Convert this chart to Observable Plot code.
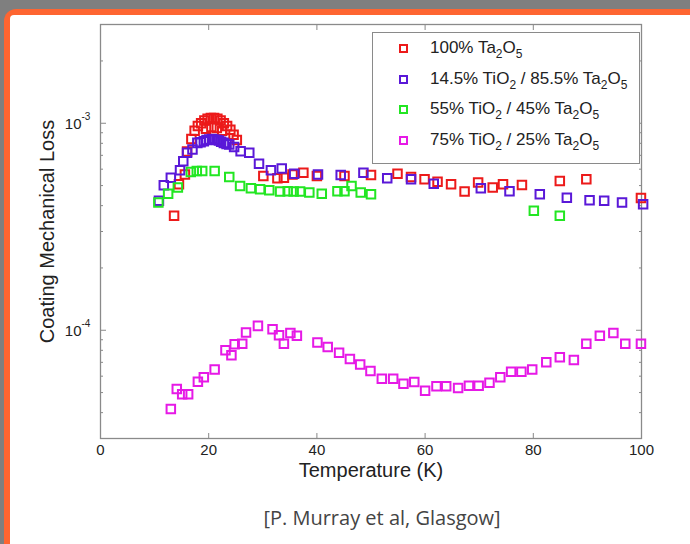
<!DOCTYPE html>
<html>
<head>
<meta charset="utf-8">
<script src="https://cdn.jsdelivr.net/npm/d3@7"></script>
<script src="https://cdn.jsdelivr.net/npm/@observablehq/plot@0.6"></script>
<style>
  html, body { margin: 0; padding: 0; width: 690px; height: 544px; overflow: hidden; background: #7f7f7f; }
  #orange { position: absolute; left: 4px; top: 9px; width: 720px; height: 560px; background: #fe6531; border-radius: 12px 0 0 0; }
  #white { position: absolute; left: 10px; top: 15px; width: 720px; height: 560px; background: #ffffff; border-radius: 4px 0 0 0; }
  #chart { position: absolute; left: 0; top: 0; }
  #legend { position: absolute; left: 372px; top: 32px; width: 266px; height: 130px; border: 1px solid #8a8a8a; background: #fff;
            font-family: "Liberation Sans", Arial, sans-serif; font-size: 17px; color: #222; }
  .row { position: absolute; left: 0; height: 20px; line-height: 20px; white-space: nowrap; }
  .mk { position: absolute; left: 26px; top: 6px; width: 5px; height: 5px; border: 2px solid; }
  .tx { position: absolute; left: 57px; top: 0; }
  .tx sub { font-size: 12px; vertical-align: -5px; line-height: 0; }
  #caption { position: absolute; left: 0; width: 764px; top: 504px; text-align: center; font-family: "Open Sans", sans-serif; font-size: 20px; color: #444; }
</style>
</head>
<body>
<div id="orange"></div>
<div id="white"></div>
<div id="chart"></div>
<div id="legend"></div>
<div id="caption">[P. Murray et al, Glasgow]</div>
<script>
// ---- data ----
const seriesNames = ["100% Ta2O5", "14.5% TiO2 / 85.5% Ta2O5", "55% TiO2 / 45% Ta2O5", "75% TiO2 / 25% Ta2O5"];
const seriesColors = ["#ec1a1a", "#5a18d8", "#22e622", "#e619e6"];

const ta2o5T    = [13.6, 14.5, 15.6, 16.0, 16.8, 17.4, 18.0, 18.6, 19.2, 19.5, 19.8, 20.4, 20.5, 21.0, 21.5, 21.6, 22.2, 22.5, 22.8, 23.4, 24.0, 24.6, 25.2, 30.1, 32.7, 33.9, 35.5, 37.5, 40.0, 45.1, 50.0, 54.9, 57.4, 59.9, 62.3, 64.8, 67.3, 69.8, 72.5, 74.4, 77.9, 84.9, 89.8, 99.9];
const ta2o5Loss = [3.57e-4, 5.07e-4, 5.66e-4, 7.3e-4, 8.4e-4, 9.2e-4, 9.7e-4, 1.0e-3, 1.03e-3, 9.4e-4, 1.05e-3, 1.06e-3, 9.6e-4, 1.06e-3, 9.5e-4, 1.05e-3, 1.03e-3, 9.2e-4, 1.0e-3, 9.7e-4, 9.3e-4, 8.8e-4, 8.3e-4, 5.56e-4, 5.42e-4, 5.45e-4, 5.66e-4, 5.77e-4, 5.56e-4, 5.56e-4, 5.62e-4, 5.7e-4, 5.5e-4, 5.36e-4, 5.22e-4, 5.07e-4, 4.68e-4, 5.17e-4, 4.89e-4, 5.07e-4, 5.03e-4, 5.26e-4, 5.36e-4, 4.35e-4];

const mixLowT    = [10.8, 11.7, 13.0, 14.7, 15.3, 16.0, 17.0, 17.9, 18.5, 19.1, 19.6, 20.1, 20.6, 21.0, 21.5, 21.9, 22.3, 22.8, 23.3, 23.8, 24.7, 25.9, 27.5, 29.3, 31.5, 33.5, 35.8, 40.2, 44.4, 48.6, 53.0, 57.4, 61.6, 70.3, 75.6, 81.2, 86.2, 90.4, 93.1, 96.4, 100.3];
const mixLowLoss = [4.22e-4, 5.02e-4, 5.46e-4, 5.93e-4, 6.56e-4, 7.2e-4, 7.47e-4, 8.04e-4, 8.1e-4, 8.19e-4, 8.3e-4, 8.35e-4, 8.4e-4, 8.35e-4, 8.3e-4, 8.26e-4, 8.15e-4, 8.04e-4, 7.95e-4, 7.9e-4, 7.67e-4, 7.32e-4, 7.2e-4, 6.37e-4, 5.93e-4, 6.05e-4, 5.7e-4, 5.66e-4, 5.62e-4, 5.77e-4, 5.42e-4, 5.36e-4, 5.1e-4, 4.85e-4, 4.7e-4, 4.54e-4, 4.37e-4, 4.25e-4, 4.22e-4, 4.14e-4, 4.06e-4];

const mixMidT    = [10.7, 12.5, 14.3, 16.7, 17.8, 18.8, 21.1, 23.8, 25.8, 27.8, 29.5, 31.2, 33.2, 34.6, 35.7, 36.9, 38.6, 40.9, 43.8, 45.1, 46.4, 48.1, 50.0, 80.1, 84.9];
const mixMidLoss = [4.14e-4, 4.57e-4, 4.89e-4, 5.81e-4, 5.88e-4, 5.88e-4, 5.88e-4, 5.5e-4, 4.98e-4, 4.85e-4, 4.8e-4, 4.75e-4, 4.68e-4, 4.7e-4, 4.68e-4, 4.68e-4, 4.63e-4, 4.57e-4, 4.7e-4, 4.7e-4, 4.98e-4, 4.63e-4, 4.54e-4, 3.78e-4, 3.57e-4];

const mixHighT    = [13.0, 14.1, 15.1, 16.2, 18.0, 19.1, 21.1, 23.1, 24.2, 24.8, 26.2, 26.9, 29.1, 31.8, 33.0, 33.9, 35.1, 36.3, 40.1, 42.0, 44.1, 46.1, 48.0, 49.9, 52.0, 54.1, 56.0, 58.0, 60.0, 62.1, 63.9, 66.1, 68.1, 69.9, 71.9, 73.9, 75.9, 77.8, 79.8, 82.4, 84.9, 87.5, 89.8, 92.3, 94.8, 97.0, 99.9];
const mixHighLoss = [4.16e-5, 5.2e-5, 4.91e-5, 4.91e-5, 5.64e-5, 5.93e-5, 6.47e-5, 8.01e-5, 7.58e-5, 8.57e-5, 8.6e-5, 9.75e-5, 1.05e-4, 1.01e-4, 9.46e-5, 8.6e-5, 9.7e-5, 9.4e-5, 8.73e-5, 8.31e-5, 7.78e-5, 7.26e-5, 6.84e-5, 6.35e-5, 5.83e-5, 5.83e-5, 5.52e-5, 5.62e-5, 5.1e-5, 5.36e-5, 5.37e-5, 5.26e-5, 5.4e-5, 5.4e-5, 5.58e-5, 5.93e-5, 6.31e-5, 6.31e-5, 6.47e-5, 7.0e-5, 7.4e-5, 7.18e-5, 8.6e-5, 9.4e-5, 9.7e-5, 8.6e-5, 8.6e-5];

const xTicks = [0, 20, 40, 60, 80, 100];
const yMajorTicks = [1e-4, 1e-3];
const yMinorTicks = [4e-5, 5e-5, 6e-5, 7e-5, 8e-5, 9e-5, 2e-4, 3e-4, 4e-4, 5e-4, 6e-4, 7e-4, 8e-4, 9e-4, 2e-3];
const xLabel = "Temperature (K)";
const yLabel = "Coating Mechanical Loss";

// ---- build table ----
const seriesT = [ta2o5T, mixLowT, mixMidT, mixHighT];
const seriesLoss = [ta2o5Loss, mixLowLoss, mixMidLoss, mixHighLoss];
const pts = [];
seriesT.forEach((ts, s) => ts.forEach((t, i) => pts.push({s, t, v: seriesLoss[s][i]})));

const expOf = d => String(Math.round(Math.log10(d)));

const chart = Plot.plot({
  width: 690,
  height: 490,
  marginLeft: 100,
  marginRight: 49,
  marginTop: 24,
  marginBottom: 52,
  style: {fontFamily: "'Liberation Sans', Arial, sans-serif", fontSize: "15px", color: "#222", background: "transparent"},
  x: {domain: [0, 100]},
  y: {type: "log", domain: [3e-5, 3e-3]},
  marks: [
    Plot.axisX({anchor: "bottom", ticks: xTicks, tickSize: -5, tickPadding: 11, label: null, stroke: "#888", fontSize: 15}),
    Plot.axisX({anchor: "top", ticks: xTicks, tickSize: -5, tickFormat: () => "", label: null, stroke: "#888"}),
    Plot.axisY({anchor: "left", ticks: yMajorTicks, tickSize: -6, tickFormat: () => "", label: null, stroke: "#888"}),
    Plot.axisY({anchor: "left", ticks: yMinorTicks, tickSize: -3, tickFormat: () => "", label: null, stroke: "#888"}),
    Plot.axisY({anchor: "right", ticks: yMajorTicks, tickSize: -6, tickFormat: () => "", label: null, stroke: "#888"}),
    Plot.axisY({anchor: "right", ticks: yMinorTicks, tickSize: -3, tickFormat: () => "", label: null, stroke: "#888"}),
    // y tick labels as 10 with a raised exponent
    Plot.text(yMajorTicks, {x: 0, y: d => d, text: () => "10", textAnchor: "end", dx: -19, dy: 1, fontSize: 15, fill: "#222"}),
    Plot.text(yMajorTicks, {x: 0, y: d => d, text: expOf, textAnchor: "start", dx: -19, dy: -6, fontSize: 10, fill: "#222"}),
    Plot.frame({stroke: "#8a8a8a", strokeWidth: 1.3}),
    Plot.dot(pts, {x: "t", y: "v", symbol: "square", r: 4.8, strokeWidth: 2, fill: "none",
      stroke: d => seriesColors[d.s]}),
    Plot.text([xLabel], {frameAnchor: "bottom", dy: 38, fontSize: 20, fill: "#222"}),
    Plot.text([yLabel], {frameAnchor: "left", dx: -53, rotate: -90, textAnchor: "middle", fontSize: 20, fill: "#222"})
  ]
});
document.getElementById("chart").appendChild(chart);

// ---- legend ----
const legend = document.getElementById("legend");
const labelHtml = n => n.replace(/O2/g, "O<sub>2</sub>").replace(/Ta2O5/g, "Ta<sub>2</sub>O<sub>5</sub>");
seriesNames.forEach((n, i) => {
  const row = document.createElement("div");
  row.className = "row";
  row.style.top = (5 + i * 30.5) + "px";
  row.innerHTML = `<span class="mk" style="border-color:${seriesColors[i]}"></span><span class="tx">${labelHtml(n)}</span>`;
  legend.appendChild(row);
});
</script>
</body>
</html>
